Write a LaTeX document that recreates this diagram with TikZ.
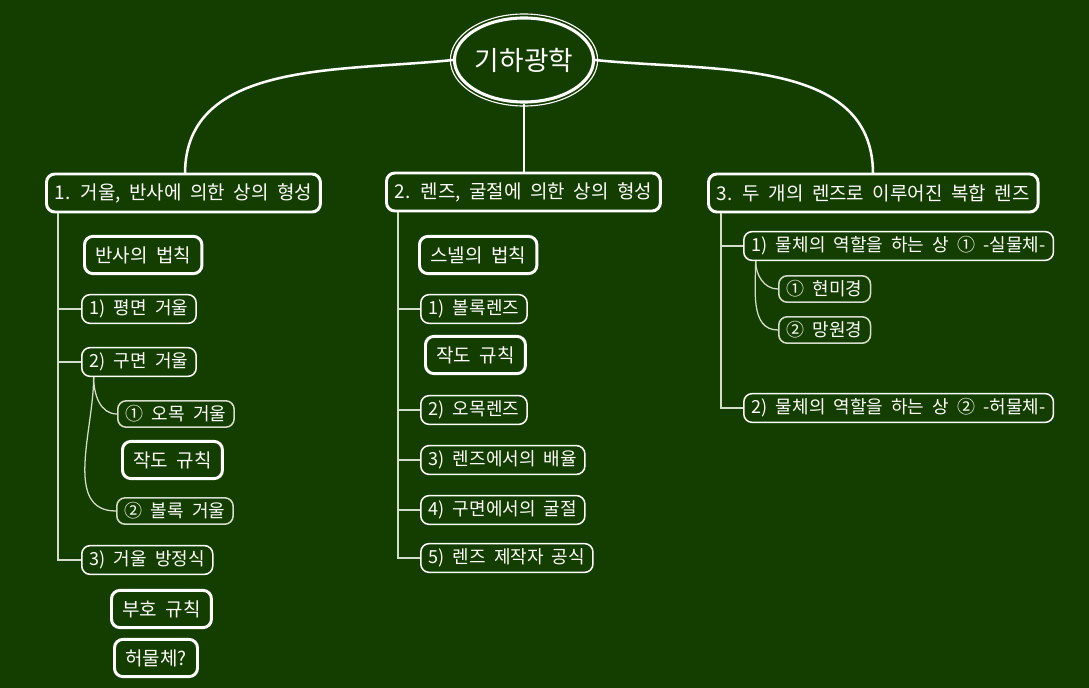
\documentclass[tikz,border=0pt]{standalone}
\usepackage{fontspec}
\setmainfont{Noto Sans CJK KR}[WordSpace=2]
\usetikzlibrary{positioning,calc,shapes.geometric}
\definecolor{BoardGreen}{RGB}{20,62,0}
\definecolor{ChalkGray}{RGB}{212,220,204}
\tikzset{
  root/.style={ellipse,draw=white,line width=2.2pt,text=white,inner sep=0pt,
    minimum width=3.42cm,minimum height=2.1cm,font=\fontsize{19pt}{22pt}\selectfont},
  ring/.style={draw=white,line width=0.8pt},
  topic/.style={anchor=west,draw=white,line width=2.1pt,rounded corners=6pt,text=white,
    inner xsep=0.21cm,inner ysep=0pt,minimum height=0.95cm,font=\fontsize{13.5pt}{16pt}\selectfont},
  rule/.style={anchor=west,draw=white,line width=2.1pt,rounded corners=6pt,text=white,
    inner xsep=0.27cm,inner ysep=0pt,minimum height=0.93cm,font=\fontsize{13.5pt}{16pt}\selectfont},
  sub/.style={anchor=west,draw=white,line width=1.1pt,rounded corners=6pt,text=white,
    inner xsep=0.2cm,inner ysep=0pt,minimum height=0.72cm,font=\fontsize{12.8pt}{15pt}\selectfont},
  leaf/.style={sub,draw=ChalkGray,minimum height=0.66cm},
  branch/.style={draw=white,line width=1.8pt},
  trunk/.style={draw=ChalkGray,line width=1.4pt},
  twig/.style={draw=ChalkGray,line width=0.9pt},
}
\begin{document}
\begin{tikzpicture}[x=0.025cm,y=-0.025cm]
\fill[BoardGreen] (0,0) rectangle (1089,688);
% root
\node[root] (geo) at (524,60) {기하광학};
\draw[ring] (geo.center) ellipse [x radius=1.84cm,y radius=1.15cm];
% main topics
\node[topic] (mir) at (45,193) {1. 거울, 반사에 의한 상의 형성};
\node[topic] (len) at (385,192) {2. 렌즈, 굴절에 의한 상의 형성};
\node[topic] (cmp) at (707,193) {3. 두 개의 렌즈로 이루어진 복합 렌즈};
\draw[branch] (geo.west) to[out=186,in=90] (185,174);
\draw[branch] (geo.south) -- (geo.south |- len.north);
\draw[branch] (geo.east) to[out=-6,in=90] (873,174);
% mirrors
\node[rule] (refl) at (83,255) {반사의 법칙};
\node[sub] (flat) at (81,309) {1) 평면 거울};
\node[sub] (sph) at (81,362) {2) 구면 거울};
\node[leaf] (conc) at (117,414) {① 오목 거울};
\node[rule] (draw1) at (121,460) {작도 규칙};
\node[leaf] (conv) at (116,511) {② 볼록 거울};
\node[sub] (meq) at (81,560) {3) 거울 방정식};
\node[rule] (sign) at (110,609) {부호 규칙};
\node[rule] (virt) at (113,658) {허물체?};
\draw[trunk] ([xshift=9]mir.south west) |- (flat.west);
\draw[trunk] ([xshift=9]mir.south west) |- (sph.west);
\draw[trunk] ([xshift=9]mir.south west) |- (meq.west);
\draw[twig] ([xshift=9]sph.south west) to[out=-90,in=180] (conc.west);
\draw[twig] ([xshift=9]sph.south west) to[out=-90,in=180] (conv.west);
% lenses
\node[rule] (snell) at (418,255) {스넬의 법칙};
\node[sub] (cvx) at (420,309) {1) 볼록렌즈};
\node[rule] (draw2) at (424,355) {작도 규칙};
\node[sub] (ccv) at (420,410) {2) 오목렌즈};
\node[sub] (mag) at (420,460) {3) 렌즈에서의 배율};
\node[sub] (refr) at (420,510) {4) 구면에서의 굴절};
\node[sub] (maker) at (420,558) {5) 렌즈 제작자 공식};
\foreach \t in {cvx,ccv,mag,refr,maker}
  \draw[trunk] ([xshift=9]len.south west) |- (\t.west);
% compound
\node[sub] (real) at (743,246) {1) 물체의 역할을 하는 상 ① -실물체-};
\node[leaf] (micro) at (778,289) {① 현미경};
\node[leaf] (tele) at (778,330) {② 망원경};
\node[sub] (imag) at (743,408) {2) 물체의 역할을 하는 상 ② -허물체-};
\draw[trunk] ([xshift=10]cmp.south west) |- (real.west);
\draw[trunk] ([xshift=10]cmp.south west) |- (imag.west);
\draw[twig] ([xshift=9]real.south west) to[out=-90,in=180] (micro.west);
\draw[twig] ([xshift=9]real.south west) to[out=-90,in=180] (tele.west);
\end{tikzpicture}
\end{document}
